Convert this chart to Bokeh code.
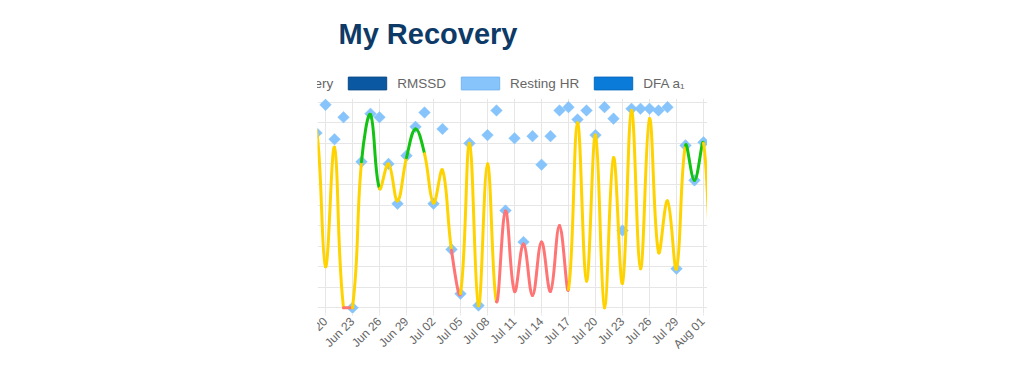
import numpy as np
import pandas as pd
from bokeh.plotting import figure
from bokeh.models import (ColumnDataSource, Range1d, FixedTicker, Legend, LegendItem,
                          Label, Div)
from bokeh.layouts import column
from bokeh.embed import file_html
from bokeh.resources import INLINE

# ---------------- data ----------------
dates = pd.date_range("2023-06-18", "2023-08-03", freq="D")

recovery = [60, 86, 20, 78, 0, 0, 71, 94, 58, 70, 52, 73, 87, 75, 51, 67, 28, 7, 80, 1,
            70, 3, 47, 8, 31, 6, 32, 8, 40, 9, 90, 13, 84, 0, 73, 12, 96, 19, 92, 27,
            52, 19, 79, 62, 80, 10, 75]

resting_hr = [np.nan, 85, 98.7, 82, 92.7, 0, 71, 94.4, 92.7, 70, 50.6, 74, 88, 95, 50.6, 87,
              28.4, 6.8, 80, 1.1, 84, 96, 47.3, 82.5, 32, 83.5, 69.6, 83.5, 96, 97.6, 91.6,
              96, 84, 97.6, 92, 37.6, 96.8, 96.8, 96.8, 96, 97.6, 19, 79, 62, 80.5, 23, np.nan]

# status of each segment between consecutive days (Y = amber, G = green, R = red)
segment_status = ["Y", "Y", "Y", "Y", "R", "Y", "G", "G", "Y", "Y",
                  "Y", "G", "G", "Y", "Y", "Y", "R", "Y", "Y", "Y",
                  "Y", "R", "R", "R", "R", "R", "R", "R", "R", "Y",
                  "Y", "Y", "Y", "Y", "Y", "Y", "Y", "Y", "Y", "Y",
                  "Y", "Y", "G", "G", "Y", "Y"]

tick_dates = ["2023-06-20", "2023-06-23", "2023-06-26", "2023-06-29", "2023-07-02",
              "2023-07-05", "2023-07-08", "2023-07-11", "2023-07-14", "2023-07-17",
              "2023-07-20", "2023-07-23", "2023-07-26", "2023-07-29", "2023-08-01"]
tick_labels = ["Jun 20", "Jun 23", "Jun 26", "Jun 29", "Jul 02", "Jul 05", "Jul 08",
               "Jul 11", "Jul 14", "Jul 17", "Jul 20", "Jul 23", "Jul 26", "Jul 29",
               "Aug 01"]

legend_labels = ["Recovery", "RMSSD", "Resting HR", "DFA a\u2081"]
title_text = "My Recovery"

# ---------------- styles ----------------
status_colors = {"Y": "#ffd300", "G": "#12c312", "R": "#ff7575"}
legend_fill = ["#ffd300", "#0b58a2", "#86c4fb", "#0a7bd8"]
legend_line = ["#e6bd00", "#0a4a88", "#76b6f0", "#086bc0"]
FONT = "Liberation Sans"

CROP = 30              # hidden strip on the left (the reference is cropped there)
W = 390                # visible width
HEAD_H = 90
H = 280
X0, X1 = 1.111, 44.444
Y0, Y1 = -2.77, 101.8
MB_BOTTOM = 65
clip_css = {"clip-path": f"inset(0px 0px 0px {CROP}px)"}

x = np.arange(len(dates), dtype=float)
rec = np.array(recovery, dtype=float)

# Chart.js style cubic spline control points (tension 0.4), in pixel space
px_day = W / (X1 - X0)
px_unit = (H - MB_BOTTOM) / (Y1 - Y0)
P = np.column_stack([x * px_day, rec * px_unit])
n = len(P)
cprev = np.zeros_like(P)
cnext = np.zeros_like(P)
t = 0.4
for i in range(n):
    prv = P[i - 1] if i > 0 else P[i]
    nxt = P[i + 1] if i < n - 1 else P[i]
    d01 = np.hypot(*(P[i] - prv))
    d12 = np.hypot(*(nxt - P[i]))
    tot = d01 + d12
    s01 = d01 / tot if tot else 0.0
    s12 = d12 / tot if tot else 0.0
    cprev[i] = P[i] - t * s01 * (nxt - prv)
    cnext[i] = P[i] + t * s12 * (nxt - prv)

cx_prev = cprev[:, 0] / px_day
cy_prev = np.clip(cprev[:, 1] / px_unit, 0, 100)
cx_next = cnext[:, 0] / px_day
cy_next = np.clip(cnext[:, 1] / px_unit, 0, 100)

seg = ColumnDataSource(dict(
    x0=x[:-1], y0=rec[:-1], x1=x[1:], y1=rec[1:],
    cx0=cx_next[:-1], cy0=cy_next[:-1], cx1=cx_prev[1:], cy1=cy_prev[1:],
    color=[status_colors[s] for s in segment_status],
))

hr_src = ColumnDataSource(dict(x=x, y=np.array(resting_hr, dtype=float)))

tick_pos = [int((pd.Timestamp(d) - dates[0]).days) for d in tick_dates]

# ---------------- header (title + legend) ----------------
# (the column aligns this frame with the chart frame below, i.e. at the visible left edge)
head = figure(width=W + CROP, height=HEAD_H, x_range=Range1d(0, 1), y_range=Range1d(0, 1),
              output_backend="svg", toolbar_location=None,
              x_axis_location=None, y_axis_location=None,
              min_border_left=CROP, min_border_right=0, min_border_top=0,
              min_border_bottom=0)
head.outline_line_color = None
head.grid.visible = False
head.background_fill_color = "white"
head.border_fill_color = "white"
head.styles = clip_css

head.add_layout(Label(x=21, y=HEAD_H - 25, x_units="screen", y_units="screen",
                      text=title_text, text_font=FONT, text_font_style="bold",
                      text_font_size="29px", text_color="#0d3a66",
                      text_baseline="alphabetic"))

# legend proxies (kept outside the header's visible range)
items = []
for lab, fc, lc in zip(legend_labels, legend_fill, legend_line):
    r = head.quad(left=[5], right=[6], bottom=[5], top=[6],
                  fill_color=fc, line_color=lc, line_width=1)
    items.append(LegendItem(label=lab, renderers=[r]))
legend = Legend(items=items, location=(-94.7, HEAD_H - 67 - 16),
                orientation="horizontal", glyph_width=48, glyph_height=16,
                label_height=16, label_standoff=6, spacing=10, padding=0, margin=0,
                border_line_color=None, background_fill_alpha=0,
                label_text_font=FONT, label_text_font_size="13.5px",
                label_text_color="#666666")
head.add_layout(legend)

# ---------------- chart ----------------
p = figure(width=W + CROP, height=H, x_range=Range1d(X0, X1), y_range=Range1d(Y0, Y1),
           output_backend="svg", toolbar_location=None, y_axis_location=None,
           min_border_left=CROP, min_border_right=0, min_border_top=0,
           min_border_bottom=MB_BOTTOM)
p.outline_line_color = None
p.background_fill_color = "white"
p.border_fill_color = "white"
p.styles = clip_css

for g in p.xgrid:
    g.ticker = FixedTicker(ticks=tick_pos)
    g.grid_line_color = "#e6e6e6"
for g in p.ygrid:
    g.ticker = FixedTicker(ticks=list(range(0, 101, 10)))
    g.grid_line_color = "#e6e6e6"

ax = p.xaxis[0]
ax.ticker = FixedTicker(ticks=tick_pos)
ax.major_label_overrides = {pos: lab for pos, lab in zip(tick_pos, tick_labels)}
ax.major_label_orientation = np.pi / 4
ax.axis_line_color = None
ax.major_tick_line_color = "#e6e6e6"
ax.major_tick_in = 0
ax.major_tick_out = 2
ax.minor_tick_line_color = None
ax.major_label_standoff = 4
ax.major_label_text_font = FONT
ax.major_label_text_font_size = "12px"
ax.major_label_text_color = "#666666"

# Resting HR diamonds (beneath the recovery line)
p.scatter("x", "y", source=hr_src, marker="square", size=8.2, angle=np.pi / 4,
          fill_color="#86c4fb", line_color="#86c4fb", line_width=0.5)

# Recovery line, colour per segment
p.bezier(x0="x0", y0="y0", x1="x1", y1="y1", cx0="cx0", cy0="cy0", cx1="cx1", cy1="cy1",
         source=seg, line_color="color", line_width=3, line_cap="round")

line_div = Div(width=W + CROP, height=1,
               styles={"background-color": "#e0e0e0", **clip_css})
layout = column(head, p, line_div, margin=(8, 0, 0, 317 - CROP))

open("out.html", "w").write(file_html(layout, INLINE))
